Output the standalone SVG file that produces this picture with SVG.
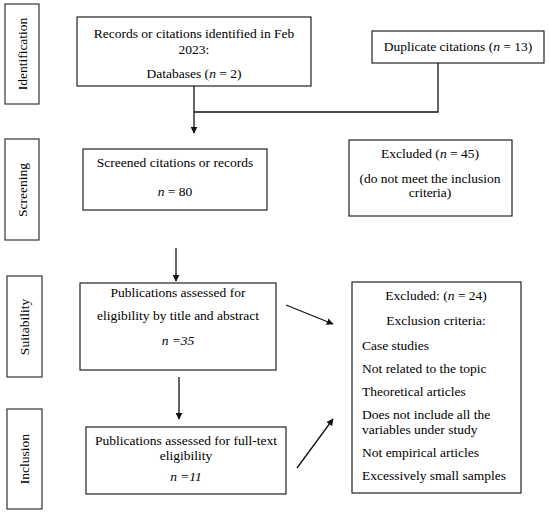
<svg xmlns="http://www.w3.org/2000/svg" width="550" height="516" viewBox="0 0 550 516">
<style>
.box{fill:#fff;stroke:#222;stroke-width:1.2}
.lab{fill:#fff;stroke:#333;stroke-width:1.2}
text{font-family:"Liberation Serif","Times New Roman",serif;font-size:13.5px;fill:#000}
.c{text-anchor:middle}
.i{font-style:italic}
.ln{fill:none;stroke:#111;stroke-width:1.3}
</style>
<defs>
<marker id="ah" viewBox="0 0 10 10" refX="9" refY="5" markerWidth="7" markerHeight="7" markerUnits="userSpaceOnUse" orient="auto">
<path d="M0,0 L10,5 L0,10 z" fill="#111"/>
</marker>
</defs>
<rect width="550" height="516" fill="#fff"/>
<g id="stage-identification"><rect class="lab" x="5" y="4" width="34" height="100"/><text class="c" transform="translate(27,54) rotate(-90)">Identification</text></g>
<g id="stage-screening"><rect class="lab" x="5" y="139" width="34" height="101"/><text class="c" transform="translate(27,190) rotate(-90)">Screening</text></g>
<g id="stage-suitability"><rect class="lab" x="7" y="276" width="35" height="101"/><text class="c" transform="translate(29,327) rotate(-90)">Suitability</text></g>
<g id="stage-inclusion"><rect class="lab" x="7" y="409" width="35" height="100"/><text class="c" transform="translate(29,459) rotate(-90)">Inclusion</text></g>
<g id="records"><rect class="box" x="77" y="17" width="234" height="69"/><text class="c" x="194" y="38">Records or citations identified in Feb</text><text class="c" x="194" y="54">2023:</text><text class="c" x="194" y="78">Databases (<tspan class="i">n</tspan> = 2)</text></g>
<g id="duplicates"><rect class="box" x="372" y="31" width="172" height="32"/><text class="c" x="458" y="51">Duplicate citations (<tspan class="i">n</tspan> = 13)</text></g>
<g id="screened"><rect class="box" x="83" y="149" width="184" height="61"/><text class="c" x="175" y="167">Screened citations or records</text><text class="c" x="175" y="196"><tspan class="i">n</tspan> = 80</text></g>
<g id="excluded45"><rect class="box" x="349" y="140" width="163" height="76"/><text class="c" x="430" y="158">Excluded (<tspan class="i">n</tspan> = 45)</text><text class="c" x="430" y="183">(do not meet the inclusion</text><text class="c" x="430" y="197">criteria)</text></g>
<g id="title-abstract"><rect class="box" x="80" y="283" width="196" height="87"/><text class="c" x="178" y="297">Publications assessed for</text><text class="c" x="178" y="320">eligibility by title and abstract</text><text class="c i" x="178" y="345">n =35</text></g>
<g id="excluded24"><rect class="box" x="352" y="282" width="169" height="211"/><text class="c" x="436" y="300">Excluded: (<tspan class="i">n</tspan> = 24)</text><text class="c" x="436" y="325">Exclusion criteria:</text><text x="362" y="350">Case studies</text><text x="362" y="373">Not related to the topic</text><text x="362" y="396">Theoretical articles</text><text x="362" y="419">Does not include all the</text><text x="362" y="434">variables under study</text><text x="362" y="457">Not empirical articles</text><text x="362" y="480">Excessively small samples</text></g>
<g id="full-text"><rect class="box" x="86" y="427" width="200" height="67"/><text class="c" x="186" y="445">Publications assessed for full-text</text><text class="c" x="186" y="460">eligibility</text><text class="c i" x="186" y="481">n =11</text></g>
<g id="connectors">
<path class="ln" d="M438,63 V112 H194"/>
<path class="ln" d="M194,86 V133" marker-end="url(#ah)"/>
<path class="ln" d="M176,248 V281" marker-end="url(#ah)"/>
<path class="ln" d="M286,305 L333,324" marker-end="url(#ah)"/>
<path class="ln" d="M179,377 V419" marker-end="url(#ah)"/>
<path class="ln" d="M297,468 L333,419" marker-end="url(#ah)"/>
</g>
</svg>
